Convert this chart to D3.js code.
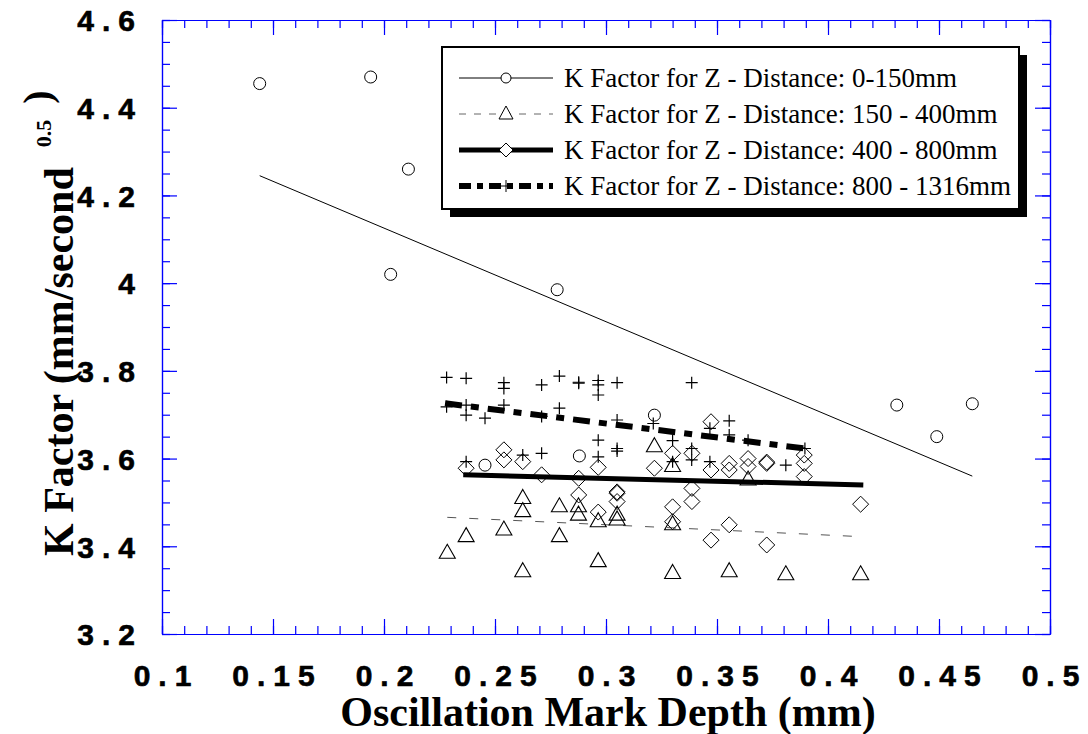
<!DOCTYPE html>
<html><head><meta charset="utf-8">
<script src="https://cdn.jsdelivr.net/npm/d3@7"></script>
<style>body{margin:0;background:#fff}</style>
</head><body>
<svg id="c" width="1088" height="734"></svg>
<script>
// ---------- data ----------
const xTicks = [0.1, 0.15, 0.2, 0.25, 0.3, 0.35, 0.4, 0.45, 0.5];
const xTickLabels = ["0.1", "0.15", "0.2", "0.25", "0.3", "0.35", "0.4", "0.45", "0.5"];
const yTicks = [3.2, 3.4, 3.6, 3.8, 4.0, 4.2, 4.4, 4.6];
const yTickLabels = ["3.2", "3.4", "3.6", "3.8", "4", "4.2", "4.4", "4.6"];
const xTitle = "Oscillation Mark Depth (mm)";
const yTitleMain = "K Factor (mm/second";
const yTitleSup = "0.5";
const seriesNames = [
  "K Factor for Z - Distance: 0-150mm",
  "K Factor for Z - Distance: 150 - 400mm",
  "K Factor for Z - Distance: 400 - 800mm",
  "K Factor for Z - Distance: 800 - 1316mm"
];
// series 1 (circles)
const circlePts = [
  [0.144, 4.455], [0.194, 4.470], [0.203, 4.020], [0.211, 4.260], [0.278, 3.985],
  [0.2455, 3.585], [0.288, 3.606], [0.3218, 3.699], [0.431, 3.722], [0.449, 3.650], [0.465, 3.725]
];
const circleFit = [[0.144, 4.245], [0.465, 3.560]];
// series 2 (triangles)
const trianglePts = [
  [0.2285, 3.384], [0.237, 3.422], [0.254, 3.437], [0.2625, 3.509], [0.2625, 3.479], [0.2625, 3.342],
  [0.279, 3.490], [0.279, 3.422], [0.2876, 3.490], [0.2876, 3.471], [0.2965, 3.456], [0.2965, 3.365],
  [0.305, 3.471], [0.305, 3.460], [0.3218, 3.627], [0.330, 3.582], [0.330, 3.449], [0.330, 3.338],
  [0.3555, 3.342], [0.364, 3.551], [0.381, 3.335], [0.4147, 3.335]
];
const triangleFit = [[0.2285, 3.466], [0.4147, 3.422]];
// series 3 (diamonds)
const diamondPts = [
  [0.237, 3.578], [0.254, 3.620], [0.254, 3.597], [0.2625, 3.593], [0.271, 3.563], [0.2877, 3.555],
  [0.2877, 3.517], [0.2965, 3.580], [0.2965, 3.478], [0.305, 3.521], [0.305, 3.524], [0.305, 3.502],
  [0.3218, 3.578], [0.330, 3.612], [0.330, 3.490], [0.330, 3.456], [0.3387, 3.612], [0.3387, 3.532],
  [0.3387, 3.502], [0.3473, 3.684], [0.3473, 3.574], [0.3473, 3.414], [0.3555, 3.589], [0.3555, 3.574],
  [0.3555, 3.449], [0.364, 3.600], [0.364, 3.582], [0.3724, 3.589], [0.3724, 3.592], [0.3724, 3.403],
  [0.3893, 3.608], [0.3893, 3.589], [0.3893, 3.559], [0.4147, 3.496]
];
const diamondFit = [[0.2357, 3.563], [0.4159, 3.540]];
// series 4 (plus)
const plusPts = [
  [0.2282, 3.785], [0.237, 3.783], [0.254, 3.773], [0.254, 3.760], [0.271, 3.768], [0.279, 3.788],
  [0.2877, 3.772], [0.2877, 3.774], [0.2965, 3.778], [0.2965, 3.768], [0.2965, 3.745], [0.305, 3.773],
  [0.2282, 3.718], [0.237, 3.722], [0.237, 3.699], [0.2455, 3.692], [0.254, 3.722], [0.271, 3.696],
  [0.279, 3.715], [0.2965, 3.642], [0.2965, 3.604], [0.305, 3.623], [0.305, 3.617], [0.271, 3.612],
  [0.2625, 3.608], [0.237, 3.593], [0.305, 3.688], [0.3386, 3.773], [0.3213, 3.680], [0.330, 3.641],
  [0.330, 3.593], [0.3386, 3.623], [0.3386, 3.597], [0.3468, 3.669], [0.3468, 3.593], [0.3555, 3.686],
  [0.3555, 3.654], [0.364, 3.642], [0.381, 3.585], [0.3896, 3.623]
];
const plusFit = [[0.2275, 3.726], [0.3896, 3.623]];

// ---------- scales ----------
const svg = d3.select("#c");
const x = d3.scaleLinear().domain([0.1, 0.5]).range([162, 1050]);
const y = d3.scaleLinear().domain([3.2, 4.6]).range([634, 20]);
const blue = "#0000ff";
const tickFont = "'Liberation Sans', Arial, sans-serif";
const serif = "'Liberation Serif', 'Times New Roman', serif";

const xMinor = d3.range(0.1, 0.5001, 0.01).map(v => +v.toFixed(3));
const yMinor = d3.range(3.2, 4.6001, 0.05).map(v => +v.toFixed(3));

function styleAxis(g) {
  g.selectAll("path.domain").attr("stroke", blue).attr("stroke-width", 1.2);
  g.selectAll(".tick line").attr("stroke", blue).attr("stroke-width", 1.2);
}
function addAxis(axisFn, scale, ticks, minor, transform, withLabels, labels) {
  const gMin = svg.append("g").attr("transform", transform)
    .call(axisFn(scale).tickValues(minor).tickSizeInner(-8).tickSizeOuter(0).tickFormat(""));
  styleAxis(gMin);
  const gMaj = svg.append("g").attr("transform", transform)
    .call(axisFn(scale).tickValues(ticks).tickSizeInner(-15).tickSizeOuter(0)
      .tickFormat(withLabels ? ((d, i) => labels[i]) : ""));
  styleAxis(gMaj);
  return gMaj;
}
const gx = addAxis(d3.axisBottom, x, xTicks, xMinor, "translate(0,634)", true, xTickLabels);
addAxis(d3.axisTop, x, xTicks, xMinor, "translate(0,20)", false);
const gy = addAxis(d3.axisLeft, y, yTicks, yMinor, "translate(162,0)", true, yTickLabels);
addAxis(d3.axisRight, y, yTicks, yMinor, "translate(1050,0)", false);

gx.selectAll(".tick text")
  .attr("y", 31).attr("dy", "0.71em")
  .attr("font-family", tickFont).attr("font-weight", "bold").attr("font-size", 30)
  .attr("letter-spacing", 8).attr("dx", 4).attr("fill", "#000")
  .attr("stroke", "#000").attr("stroke-width", 0.6);
gy.selectAll(".tick text")
  .attr("x", -19).attr("dy", "0.36em")
  .attr("font-family", tickFont).attr("font-weight", "bold").attr("font-size", 30)
  .attr("letter-spacing", 8).attr("fill", "#000")
  .attr("stroke", "#000").attr("stroke-width", 0.6);

// ---------- plot content ----------
const plot = svg.append("g");
const line = d3.line().x(d => x(d[0])).y(d => y(d[1]));

plot.append("path").datum(circleFit).attr("d", line)
  .attr("fill", "none").attr("stroke", "#000").attr("stroke-width", 1);
plot.append("path").datum(triangleFit).attr("d", line)
  .attr("fill", "none").attr("stroke", "#555").attr("stroke-width", 1).attr("stroke-dasharray", "9,13");
plot.append("path").datum(diamondFit).attr("d", line)
  .attr("fill", "none").attr("stroke", "#000").attr("stroke-width", 5);
plot.append("path").datum(plusFit).attr("d", line)
  .attr("fill", "none").attr("stroke", "#000").attr("stroke-width", 6).attr("stroke-dasharray", "17,9,8,9");

const symCircle = d3.symbol().type(d3.symbolCircle).size(Math.PI * 36);
const triPath = "M0,-9L8,5L-8,5Z";
const diaPath = "M0,-8L8,0L0,8L-8,0Z";
const plusPath = "M-6,0H6M0,-6V6";

plot.selectAll(".c").data(circlePts).join("path")
  .attr("d", symCircle()).attr("transform", d => `translate(${x(d[0])},${y(d[1])})`)
  .attr("fill", "none").attr("stroke", "#000").attr("stroke-width", 1);
plot.selectAll(".t").data(trianglePts).join("path")
  .attr("d", triPath).attr("transform", d => `translate(${x(d[0])},${y(d[1])})`)
  .attr("fill", "none").attr("stroke", "#000").attr("stroke-width", 1.1);
plot.selectAll(".d").data(diamondPts).join("path")
  .attr("d", diaPath).attr("transform", d => `translate(${x(d[0])},${y(d[1])})`)
  .attr("fill", "none").attr("stroke", "#000").attr("stroke-width", 1);
plot.selectAll(".p").data(plusPts).join("path")
  .attr("d", plusPath).attr("transform", d => `translate(${x(d[0])},${y(d[1])})`)
  .attr("fill", "none").attr("stroke", "#000").attr("stroke-width", 1.2);

// ---------- legend ----------
const lg = svg.append("g");
const LX = 442, LY = 47, LW = 577, LH = 162;
lg.append("rect").attr("x", LX + 8).attr("y", LY + 8).attr("width", LW).attr("height", LH).attr("fill", "#000");
lg.append("rect").attr("x", LX).attr("y", LY).attr("width", LW).attr("height", LH)
  .attr("fill", "#fff").attr("stroke", "#000").attr("stroke-width", 2);
const rowY = [78, 114, 150, 186];
const lineStyles = [
  {stroke: "#000", w: 1, dash: null},
  {stroke: "#666", w: 1, dash: "7,8"},
  {stroke: "#000", w: 5, dash: null},
  {stroke: "#000", w: 6, dash: "12,6,6,6"}
];
const markers = [symCircle.size(Math.PI * 25)(), "M0,-8L7,5L-7,5Z", "M0,-7L7,0L0,7L-7,0Z", "M-5,0H5M0,-6V6"];
seriesNames.forEach((name, i) => {
  const ry = rowY[i];
  const ls = lineStyles[i];
  const p = lg.append("line").attr("x1", 459).attr("x2", 553).attr("y1", ry).attr("y2", ry)
    .attr("stroke", ls.stroke).attr("stroke-width", ls.w);
  if (ls.dash) p.attr("stroke-dasharray", ls.dash);
  lg.append("path").attr("d", markers[i]).attr("transform", `translate(506,${ry})`)
    .attr("fill", i === 3 ? "none" : "#fff").attr("stroke", "#000").attr("stroke-width", 1);
  lg.append("text").attr("x", 564).attr("y", ry + 9).text(name)
    .attr("font-family", serif).attr("font-size", 27).attr("fill", "#000");
});

// ---------- titles ----------
svg.append("text").attr("x", 608).attr("y", 726).attr("text-anchor", "middle")
  .attr("font-family", serif).attr("font-weight", "bold").attr("font-size", 42)
  .text(xTitle);

const yt = svg.append("text").attr("transform", "translate(73,556) rotate(-90)")
  .attr("font-family", serif).attr("font-weight", "bold").attr("font-size", 42);
yt.append("tspan").text(yTitleMain);
yt.append("tspan").attr("dx", 20).attr("dy", -22).attr("font-size", 22).text(yTitleSup);
yt.append("tspan").attr("dx", 16).attr("font-size", 40).text(")");
</script>
</body></html>
